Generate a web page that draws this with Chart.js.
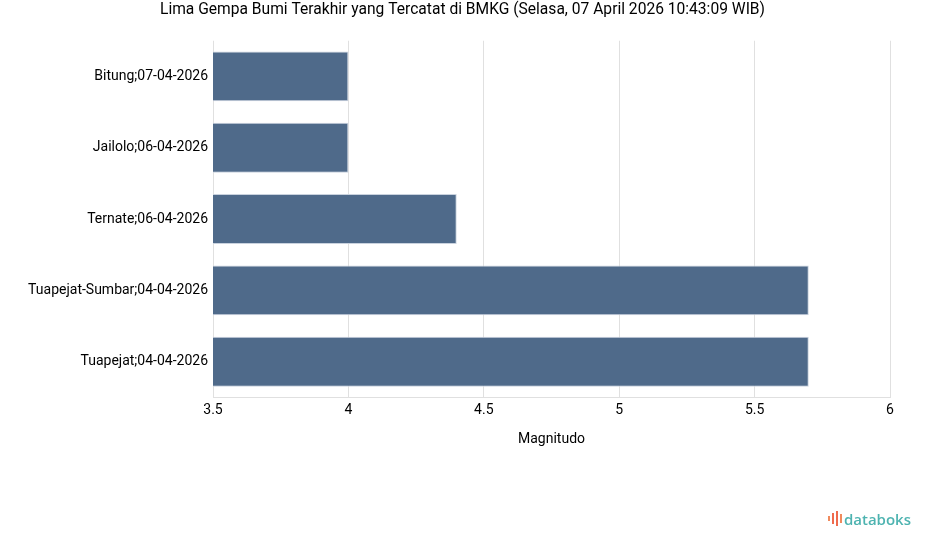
<!DOCTYPE html>
<html lang="id">
<head>
    <meta charset="UTF-8">
    <title>Lima Gempa Bumi Terakhir</title>
    <script src="https://cdn.jsdelivr.net/npm/chart.js"></script>
    <style>
        body { margin: 0; background: #fff; font-family: Roboto, Arial, sans-serif; }
        #wrap { position: relative; width: 925px; height: 547px; }
        #logo {
            position: absolute; right: 14px; bottom: 20px;
            display: flex; align-items: flex-end; gap: 2px;
            font-family: "Open Sans", Roboto, sans-serif; font-weight: 600;
            font-size: 15px; color: #4db3b0; line-height: 1;
        }
        #logo .ico { display: flex; align-items: center; gap: 2px; height: 15px; margin-bottom: 1px; }
        #logo .ico span { display: block; width: 2px; background: #ef6b4e; }
    </style>
</head>
<body>
<div id="wrap">
    <canvas id="quakeChart" width="925" height="547"></canvas>
    <div id="logo">
        <div class="ico"><span style="height:5px;background:#f08a5d"></span><span style="height:11px"></span><span style="height:15px"></span><span style="height:9px;background:#f08a5d"></span></div>
        <span>databoks</span>
    </div>
</div>
<script>
    const labels = [
        'Bitung;07-04-2026',
        'Jailolo;06-04-2026',
        'Ternate;06-04-2026',
        'Tuapejat-Sumbar;04-04-2026',
        'Tuapejat;04-04-2026'
    ];
    const magnitudes = [4.0, 4.0, 4.4, 5.7, 5.7];
    const xTicks = [3.5, 4, 4.5, 5, 5.5, 6];

    const ctx = document.getElementById('quakeChart').getContext('2d');
    new Chart(ctx, {
        type: 'bar',
        data: {
            labels: labels,
            datasets: [{
                label: 'Magnitudo',
                data: magnitudes,
                backgroundColor: '#4f6a8a',
                borderColor: '#c9d2de',
                borderWidth: 1,
                barPercentage: 0.7,
                categoryPercentage: 1.0
            }]
        },
        options: {
            indexAxis: 'y',
            responsive: false,
            animation: false,
            layout: { padding: { left: 0, right: 0, top: 0, bottom: 95 } },
            plugins: {
                legend: { display: false },
                tooltip: { enabled: false },
                title: {
                    display: true,
                    text: 'Lima Gempa Bumi Terakhir yang Tercatat di BMKG (Selasa, 07 April 2026 10:43:09 WIB)',
                    color: '#000',
                    font: { family: 'Roboto', size: 15.6, weight: 'normal' },
                    padding: { top: 1, bottom: 21 }
                }
            },
            scales: {
                x: {
                    min: 3.5,
                    max: 6,
                    afterBuildTicks: (scale) => { scale.ticks = xTicks.map(v => ({ value: v })); },
                    afterFit: (scale) => { scale.paddingRight = 35; },
                    grid: { color: '#e0e0e0', drawTicks: false },
                    border: { color: '#e0e0e0' },
                    ticks: {
                        color: '#000',
                        font: { family: 'Roboto', size: 14 },
                        padding: 5,
                        callback: (v) => String(v)
                    },
                    title: {
                        display: true,
                        text: 'Magnitudo',
                        color: '#000',
                        font: { family: 'Roboto', size: 14 },
                        padding: { top: 7 }
                    }
                },
                y: {
                    afterFit: (scale) => { scale.width = 213; },
                    grid: { display: false, drawTicks: false },
                    border: { display: false },
                    ticks: {
                        color: '#000',
                        font: { family: 'Roboto', size: 14 },
                        padding: 5
                    }
                }
            }
        }
    });
</script>
</body>
</html>
